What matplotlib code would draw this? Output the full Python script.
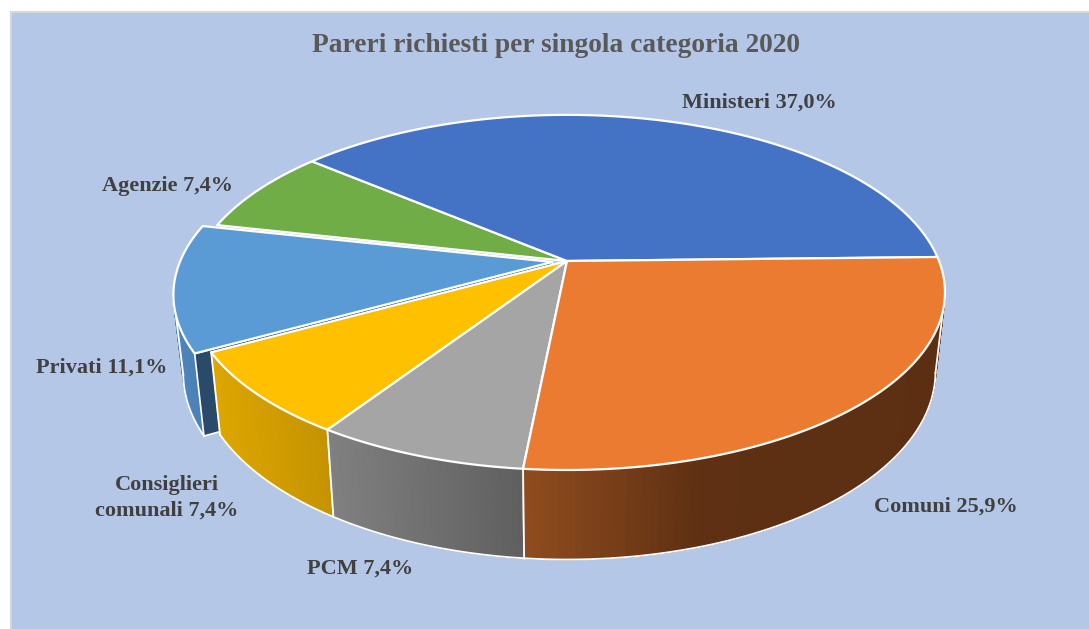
import numpy as np
import matplotlib
matplotlib.use("Agg")
import matplotlib.pyplot as plt
from matplotlib.patches import Polygon, Rectangle

categories = ["Ministeri", "Comuni", "PCM", "Consiglieri\ncomunali", "Privati", "Agenzie"]
values = [37.0, 25.9, 7.4, 7.4, 11.1, 7.4]
title = "Pareri richiesti per singola categoria 2020"

top_colors = ["#4472C4", "#EB7B30", "#A5A5A5", "#FFC000", "#5B9BD5", "#70AD47"]
side_stops = {
    1: [(525, "#8F4C1E"), (700, "#5F3013"), (950, "#5C2F13")],
    2: [(328, "#808080"), (525, "#5F5F5F")],
    3: [(210, "#DDA600"), (334, "#C39200")],
    4: [(170, "#4F86BE"), (205, "#4A7DB2")],
}
label_xy = [(759, 103), (946, 507), (360, 569), (167, 498), (102, 368), (168, 186)]
explode = {4: 0.04}
start_angle = 139.8

cx, cy, a, b, k = 567.0, 261.0, 372.0, 172.0, 0.177
sx, cy2, sy = 0.975, 338.0, 1.06


def top_pt(u, f):
    d = 1 - k * f
    return cx + a * u / d, cy + b * f / d


def bot_pt(x, y):
    return cx + sx * (x - cx), cy2 + sy * (y - cy)


def disk(t_deg, off=(0.0, 0.0), r=1.0):
    t = np.radians(t_deg)
    return top_pt(r * np.cos(t) + off[0], -r * np.sin(t) + off[1])


def mix(stops, x):
    xs = [s[0] for s in stops]
    cols = np.array([matplotlib.colors.to_rgb(s[1]) for s in stops])
    return tuple(np.interp(x, xs, cols[:, i]) for i in range(3))


fig = plt.figure(figsize=(10.89, 6.29), dpi=100, facecolor="white")
ax = fig.add_axes([0, 0, 1, 1])
ax.set_xlim(0, 1089)
ax.set_ylim(629, 0)
ax.axis("off")
ax.add_patch(Rectangle((10.5, 11.5), 1100, 640, fc="#B4C7E7", ec="#D6D6D6", lw=1.5, zorder=0))

fractions = np.array(values) / np.sum(values)
spans = fractions * 360.0
ends = start_angle - np.cumsum(spans)
starts = ends + spans

WHITE = "white"


def offset_of(i):
    if i in explode:
        m = np.radians((starts[i] + ends[i]) / 2)
        return (explode[i] * np.cos(m), -explode[i] * np.sin(m))
    return (0.0, 0.0)


def draw_side(i, z):
    off = offset_of(i)
    ts = np.linspace(starts[i], ends[i], 90)
    tops = np.array([disk(t, off) for t in ts])
    bots = np.array([bot_pt(*p) for p in tops])
    # keep only the part of the wall in front of the silhouette
    if i == 1:
        s = int(np.argmax(bots[:, 0]))
        rng = range(s, len(ts) - 1)
    elif i == 4:
        s = int(np.argmin(bots[:, 0]))
        rng = range(0, s)
    else:
        rng = range(len(ts) - 1)
    for j in rng:
        c = mix(side_stops[i], (tops[j, 0] + tops[j + 1, 0]) / 2)
        ax.add_patch(Polygon([tops[j], tops[j + 1], bots[j + 1], bots[j]],
                             fc=c, ec=c, lw=1.0, zorder=z))
    return tops, bots, off


def draw_top(i, z):
    off = offset_of(i)
    ts = np.linspace(starts[i], ends[i], 160)
    pts = [top_pt(off[0], off[1])] + [disk(t, off) for t in ts]
    ax.add_patch(Polygon(pts, closed=True, fc=top_colors[i], ec=WHITE, lw=1.6,
                         joinstyle="round", zorder=z))


tops, bots, off = draw_side(4, 2)
e = int(np.argmin(bots[:, 0]))
ax.plot(bots[:e + 1, 0], bots[:e + 1, 1], color=WHITE, lw=1.3, zorder=3)
ax.plot([tops[e, 0], bots[e, 0]], [tops[e, 1], bots[e, 1]], color=WHITE, lw=1.3, zorder=3)
apex = top_pt(*off)
wall = np.array([tops[0], apex, bot_pt(*apex), bots[0]], dtype=float)
ax.fill(wall[:, 0], wall[:, 1], fc="#2A4A69", ec=WHITE, lw=1.2, zorder=3.5)

for i, z in [(3, 4), (2, 5), (1, 6)]:
    tops, bots, _ = draw_side(i, z)
    e = int(np.argmax(bots[:, 0])) if i == 1 else 0
    ax.plot(bots[e:, 0], bots[e:, 1], color=WHITE, lw=1.3, zorder=z + 0.5)
    ax.plot([tops[e, 0], bots[e, 0]], [tops[e, 1], bots[e, 1]], color=WHITE, lw=1.3, zorder=z + 0.5)
    ax.plot([tops[-1, 0], bots[-1, 0]], [tops[-1, 1], bots[-1, 1]], color=WHITE, lw=1.3, zorder=z + 0.5)

for n, i in enumerate([5, 0, 4, 3, 2, 1]):
    draw_top(i, 10 + n)

serif = ["Liberation Serif", "DejaVu Serif"]
ax.text(556, 46, title, ha="center", va="center", family=serif, weight="bold",
        fontsize=19.8, color="#595959", zorder=30)
for name, v, (x, y) in zip(categories, values, label_xy):
    lab = f"{name} {v:.1f}%".replace(".", ",")
    ax.text(x, y, lab, ha="center", va="center", family=serif, weight="bold",
            fontsize=16, color="#404040", linespacing=1.4, zorder=30)

fig.savefig("out.png", dpi=100, facecolor="white")
